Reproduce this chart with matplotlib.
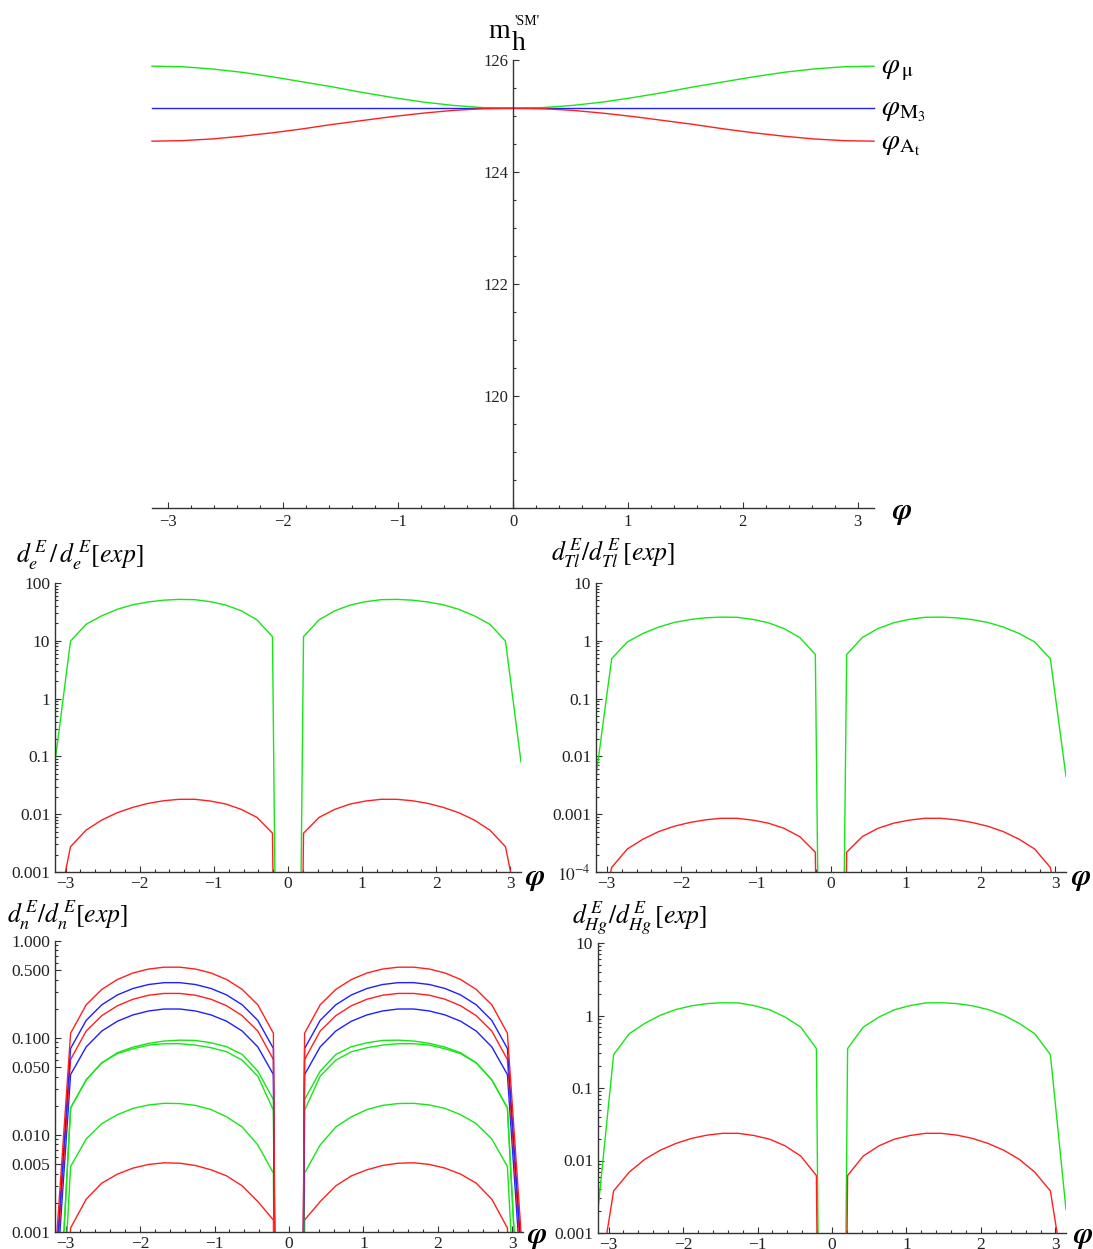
import numpy as np
import matplotlib
matplotlib.use("Agg")
import matplotlib.pyplot as plt
from matplotlib.ticker import FixedLocator, FixedFormatter, MultipleLocator

plt.rcParams['mathtext.fontset'] = 'stix'
plt.rcParams['font.family'] = ['Liberation Serif', 'DejaVu Serif']

W, H = 1093, 1249
GREEN, RED, BLUE = '#16e616', '#ff1f1f', '#1f1fff'
AXC = '#333333'

# ---------------- data ----------------
# top panel: m_h vs phase
phi_top = np.linspace(-np.pi, np.pi, 25)
mh_mu = [125.89, 125.88, 125.84, 125.78, 125.70, 125.61, 125.52, 125.42, 125.33,
         125.25, 125.19, 125.15, 125.14, 125.15, 125.19, 125.25, 125.33, 125.42,
         125.52, 125.61, 125.70, 125.78, 125.84, 125.88, 125.89]
mh_M3 = [125.14] * 25
mh_At = [124.55, 124.56, 124.59, 124.64, 124.70, 124.77, 124.85, 124.92, 124.99,
         125.05, 125.10, 125.13, 125.14, 125.13, 125.10, 125.05, 124.99, 124.92,
         124.85, 124.77, 124.70, 124.64, 124.59, 124.56, 124.55]

# EDM panels: phase grid (31 points, -pi .. pi)
phi = np.linspace(-np.pi, np.pi, 31)

de_green = [0.08, 9.9, 19.3, 27, 35, 42, 47, 50.5, 52, 51.5, 47.5, 41.5, 33, 23, 11.8, 1e-25,
            11.8, 23, 33, 41.5, 47.5, 51.5, 52, 50.5, 47, 42, 35, 27, 19.3, 9.9, 0.08]
de_red = [1.3e-4, 0.00274, 0.0053, 0.0079, 0.0106, 0.0131, 0.0154, 0.0171, 0.0181, 0.0181,
          0.0169, 0.0150, 0.0121, 0.0088, 0.0047, 1e-25,
          0.0047, 0.0088, 0.0121, 0.0150, 0.0169, 0.0181, 0.0181, 0.0171, 0.0154, 0.0131,
          0.0106, 0.0079, 0.0053, 0.00274, 1.3e-4]

tl_green = [0.0045, 0.49, 0.955, 1.34, 1.73, 2.08, 2.33, 2.5, 2.57, 2.55, 2.35, 2.05, 1.63, 1.14, 0.58, 1e-25,
            0.58, 1.14, 1.63, 2.05, 2.35, 2.55, 2.57, 2.5, 2.33, 2.08, 1.73, 1.34, 0.955, 0.49, 0.0045]
tl_red = [6e-6, 1.2e-4, 2.5e-4, 3.7e-4, 5.0e-4, 6.2e-4, 7.2e-4, 8.0e-4, 8.5e-4, 8.5e-4,
          7.9e-4, 7.0e-4, 5.7e-4, 4.1e-4, 2.2e-4, 1e-25,
          2.2e-4, 4.1e-4, 5.7e-4, 7.0e-4, 7.9e-4, 8.5e-4, 8.5e-4, 8.0e-4, 7.2e-4, 6.2e-4,
          5.0e-4, 3.7e-4, 2.5e-4, 1.2e-4, 6e-6]

hg_green = [0.0021, 0.288, 0.56, 0.78, 1.01, 1.21, 1.36, 1.46, 1.5, 1.49, 1.37, 1.2, 0.95, 0.69, 0.35, 1e-25,
            0.35, 0.69, 0.95, 1.2, 1.37, 1.49, 1.5, 1.46, 1.36, 1.21, 1.01, 0.78, 0.56, 0.288, 0.0021]
hg_red = [1.7e-4, 0.0038, 0.0069, 0.0104, 0.0139, 0.0172, 0.0202, 0.0224, 0.0237, 0.0237,
          0.0221, 0.0197, 0.0159, 0.0115, 0.0062, 1e-25,
          0.0062, 0.0115, 0.0159, 0.0197, 0.0221, 0.0237, 0.0237, 0.0224, 0.0202, 0.0172,
          0.0139, 0.0104, 0.0069, 0.0038, 1.7e-4]

dn_red1 = [5e-4, 0.112, 0.22, 0.317, 0.401, 0.468, 0.514, 0.537, 0.537, 0.514, 0.468, 0.401, 0.317, 0.22, 0.112, 1e-25,
           0.112, 0.22, 0.317, 0.401, 0.468, 0.514, 0.537, 0.537, 0.514, 0.468, 0.401, 0.317, 0.22, 0.112, 5e-4]
dn_blue1 = [3.4e-4, 0.078, 0.152, 0.22, 0.278, 0.324, 0.356, 0.372, 0.372, 0.356, 0.324, 0.278, 0.22, 0.152, 0.078, 1e-25,
            0.078, 0.152, 0.22, 0.278, 0.324, 0.356, 0.372, 0.372, 0.356, 0.324, 0.278, 0.22, 0.152, 0.078, 3.4e-4]
dn_red2 = [2.6e-4, 0.060, 0.118, 0.170, 0.215, 0.251, 0.276, 0.288, 0.288, 0.276, 0.251, 0.215, 0.170, 0.118, 0.060, 1e-25,
           0.060, 0.118, 0.170, 0.215, 0.251, 0.276, 0.288, 0.288, 0.276, 0.251, 0.215, 0.170, 0.118, 0.060, 2.6e-4]
dn_blue2 = [1.8e-4, 0.042, 0.081, 0.118, 0.149, 0.173, 0.190, 0.199, 0.199, 0.190, 0.173, 0.149, 0.118, 0.081, 0.042, 1e-25,
            0.042, 0.081, 0.118, 0.149, 0.173, 0.190, 0.199, 0.199, 0.190, 0.173, 0.149, 0.118, 0.081, 0.042, 1.8e-4]
dn_greenA = [2e-5, 0.019, 0.037, 0.0555, 0.0705, 0.0805, 0.088, 0.093, 0.095, 0.0944, 0.0893, 0.0813, 0.0677, 0.0455, 0.0232, 1e-25,
             0.0232, 0.0455, 0.0677, 0.0813, 0.0893, 0.0944, 0.095, 0.093, 0.088, 0.0805, 0.0705, 0.0555, 0.037, 0.019, 2e-5]
dn_greenB = [2e-5, 0.019, 0.037, 0.0555, 0.069, 0.0774, 0.0845, 0.0873, 0.0873, 0.0845, 0.0794, 0.0722, 0.0591, 0.0404, 0.018, 1e-25,
             0.018, 0.0404, 0.0591, 0.0722, 0.0794, 0.0845, 0.0873, 0.0873, 0.0845, 0.0774, 0.069, 0.0555, 0.037, 0.019, 2e-5]
dn_green3 = [5e-6, 0.00473, 0.0091, 0.0131, 0.0162, 0.0188, 0.0204, 0.0212, 0.0211, 0.0202, 0.0183, 0.0154, 0.0121, 0.0079, 0.00405, 1e-25,
             0.00405, 0.0079, 0.0121, 0.0154, 0.0183, 0.0202, 0.0211, 0.0212, 0.0204, 0.0188, 0.0162, 0.0131, 0.0091, 0.00473, 5e-6]
dn_red3 = [1e-6, 0.0011, 0.00218, 0.00319, 0.00395, 0.00456, 0.00497, 0.00517, 0.00512, 0.00485, 0.00438, 0.00379, 0.00299, 0.00206, 0.00133, 1e-25,
           0.00133, 0.00206, 0.00299, 0.00379, 0.00438, 0.00485, 0.00512, 0.00517, 0.00497, 0.00456, 0.00395, 0.00319, 0.00218, 0.0011, 1e-6]

xticks = [-3, -2, -1, 0, 1, 2, 3]
xticklabels = ['\u22123', '\u22122', '\u22121', '0', '1', '2', '3']

# ---------------- figure ----------------
fig = plt.figure(figsize=(W / 100, H / 100), dpi=100)


def box(l, r, t, b):
    return [l / W, 1 - b / H, (r - l) / W, (b - t) / H]


def style(ax, fs):
    for s in ['top', 'right']:
        ax.spines[s].set_visible(False)
    for s in ['left', 'bottom']:
        ax.spines[s].set_color(AXC)
        ax.spines[s].set_linewidth(1.0)
    ax.tick_params(which='both', direction='in', colors=AXC, width=0.8,
                   labelsize=fs, labelcolor='#222222')
    ax.tick_params(which='major', length=4.3)
    ax.tick_params(which='minor', length=2.5)
    ax.set_xlim(-np.pi, np.pi)
    ax.xaxis.set_major_locator(FixedLocator(xticks))
    ax.xaxis.set_major_formatter(FixedFormatter(xticklabels))
    ax.xaxis.set_minor_locator(MultipleLocator(0.2))
    ax.patch.set_alpha(0)


def phi_label(x, y):
    fig.text(x / W, 1 - y / H, '\u03c6', family='STIXGeneral', style='italic',
             weight='bold', fontsize=21, ha='center', va='center')


# top panel
ax0 = fig.add_axes(box(152, 874, 60, 508))
style(ax0, 12)
ax0.set_ylim(118, 126)
ax0.spines['left'].set_position(('data', 0))
ax0.yaxis.set_major_locator(FixedLocator([120, 122, 124, 126]))
ax0.yaxis.set_minor_locator(MultipleLocator(0.5))
ax0.tick_params(axis='y', pad=3.5)
ax0.tick_params(axis='x', pad=4)
ax0.plot(phi_top, mh_mu, color=GREEN, lw=1.0, clip_on=False)
ax0.plot(phi_top, mh_M3, color=BLUE, lw=1.0, clip_on=False)
ax0.plot(phi_top, mh_At, color=RED, lw=1.0, clip_on=False)
fig.text(499 / W, 1 - 38 / H, 'm', fontsize=20, ha='center', va='baseline')
fig.text(519 / W, 1 - 50 / H, 'h', fontsize=20, ha='center', va='baseline')
fig.text(527 / W, 1 - 25 / H, "'SM'", fontsize=10, ha='center', va='baseline')
fig.text(881 / W, 1 - 70 / H, r'$\varphi_{\,\mathrm{\mu}}$', fontsize=21, ha='left', va='center')
fig.text(881 / W, 1 - 111 / H, r'$\varphi_{\mathrm{M}_3}$', fontsize=21, ha='left', va='center')
fig.text(881 / W, 1 - 145 / H, r'$\varphi_{\mathrm{A}_\mathrm{t}}$', fontsize=21, ha='left', va='center')
phi_label(902, 511)


def log_panel(rect, ymin, ymax, majors, majlabels, minors):
    ax = fig.add_axes(rect)
    style(ax, 12.5)
    ax.set_yscale('log')
    ax.set_ylim(ymin, ymax)
    ax.yaxis.set_major_locator(FixedLocator(majors))
    ax.yaxis.set_major_formatter(FixedFormatter(majlabels))
    ax.yaxis.set_minor_locator(FixedLocator(minors))
    ax.yaxis.set_minor_formatter(FixedFormatter([]))
    ax.tick_params(axis='y', pad=3.5)
    ax.tick_params(axis='x', pad=3)
    return ax


def minors_for(lo_exp, hi_exp, skip=()):
    out = []
    for e in range(lo_exp, hi_exp):
        for s in range(2, 10):
            if s in skip:
                continue
            out.append(s * 10.0 ** e)
    return out


TFS = 18.5

# d_e panel
ax1 = log_panel(box(55, 521, 583, 872), 1e-3, 100,
                [1e-3, 1e-2, 1e-1, 1, 10, 100], ['0.001', '0.01', '0.1', '1', '10', '100'],
                minors_for(-3, 2))
ax1.plot(phi, de_green, color=GREEN, lw=1.0)
ax1.plot(phi, de_red, color=RED, lw=1.0)
fig.text(16 / W, 1 - 555 / H, r'$d_e^{\,E}\,/\,d_e^{\,E}[exp]$', fontsize=TFS, ha='left', va='center')
phi_label(535, 877)

# d_Tl panel
ax2 = log_panel(box(596, 1066, 583, 872), 1e-4, 10,
                [1e-4, 1e-3, 1e-2, 1e-1, 1, 10],
                [r'$10^{-4}$', '0.001', '0.01', '0.1', '1', '10'],
                minors_for(-4, 1))
ax2.plot(phi, tl_green, color=GREEN, lw=1.0)
ax2.plot(phi, tl_red, color=RED, lw=1.0)
fig.text(551 / W, 1 - 553 / H, r'$d_{Tl}^{\,E}/d_{Tl}^{\,E}\,[exp]$', fontsize=TFS, ha='left', va='center')
phi_label(1081, 877)

# d_n panel
ax3 = log_panel(box(55, 523, 941, 1232), 1e-3, 1,
                [1e-3, 5e-3, 1e-2, 5e-2, 1e-1, 5e-1, 1],
                ['0.001', '0.005', '0.010', '0.050', '0.100', '0.500', '1.000'],
                minors_for(-3, 0, skip=(5,)))
for ys, c in [(dn_red3, RED), (dn_green3, GREEN), (dn_greenB, GREEN), (dn_greenA, GREEN),
              (dn_blue2, BLUE), (dn_red2, RED), (dn_blue1, BLUE), (dn_red1, RED)]:
    ax3.plot(phi, ys, color=c, lw=1.0)
fig.text(7 / W, 1 - 915 / H, r'$d_n^{\,E}/d_n^{\,E}[exp]$', fontsize=TFS, ha='left', va='center')
phi_label(537, 1235)

# d_Hg panel
ax4 = log_panel(box(598, 1066, 943, 1233), 1e-3, 10,
                [1e-3, 1e-2, 1e-1, 1, 10], ['0.001', '0.01', '0.1', '1', '10'],
                minors_for(-3, 1))
ax4.plot(phi, hg_green, color=GREEN, lw=1.0)
ax4.plot(phi, hg_red, color=RED, lw=1.0)
fig.text(572 / W, 1 - 918 / H, r'$d_{Hg}^{\,E}/d_{Hg}^{\,E}\,[exp]$', fontsize=TFS, ha='left', va='center')
phi_label(1083, 1235)

fig.savefig('out.png', dpi=100)
